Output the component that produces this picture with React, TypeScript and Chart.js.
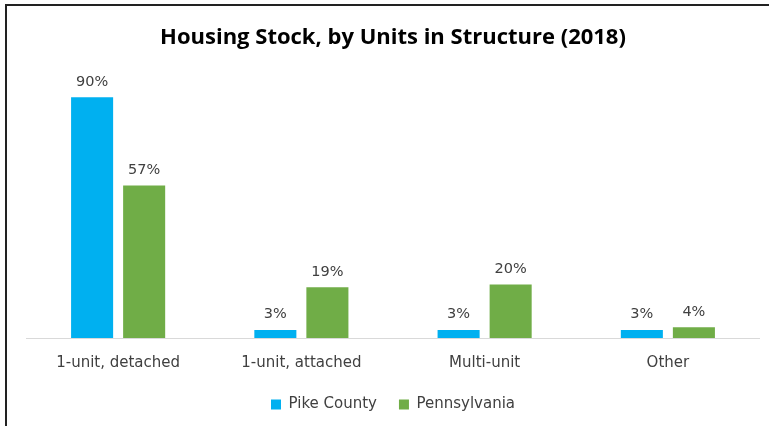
import React, { useEffect, useRef } from "react";
import { Chart, registerables } from "chart.js";

Chart.register(...registerables);

const categories = ["1-unit, detached", "1-unit, attached", "Multi-unit", "Other"];
const pikeCounty = [90, 3, 3, 3];
const pennsylvania = [57, 19, 20, 4];
const seriesNames = ["Pike County", "Pennsylvania"];
const titleText = "Housing Stock, by Units in Structure (2018)";

const FONT = "'DejaVu Sans', sans-serif";
const TITLE_FONT = "'Open Sans', 'Noto Sans', sans-serif";

const dataLabelPlugin = {
  id: "dataLabels",
  afterDatasetsDraw(chart: any) {
    const ctx = chart.ctx;
    ctx.save();
    ctx.font = `14.5px ${FONT}`;
    ctx.fillStyle = "#404040";
    ctx.textAlign = "center";
    ctx.textBaseline = "bottom";
    chart.data.datasets.forEach((ds: any, i: number) => {
      const meta = chart.getDatasetMeta(i);
      meta.data.forEach((bar: any, j: number) => {
        ctx.fillText(`${ds.data[j]}%`, bar.x, bar.y - 8);
      });
    });
    ctx.restore();
  },
};

const legendHeightPlugin = {
  id: "legendHeight",
  beforeLayout(chart: any) {
    const legend = chart.legend;
    if (legend && !legend.__patched) {
      const orig = legend.fit;
      legend.fit = function (this: any) {
        orig.call(this);
        this.height = 45;
      };
      legend.__patched = true;
    }
  },
};

export default function App() {
  const ref = useRef<HTMLCanvasElement>(null);
  useEffect(() => {
    if (!ref.current) return;
    const chart = new Chart(ref.current, {
      type: "bar",
      data: {
        labels: categories,
        datasets: [
          {
            label: seriesNames[0],
            data: pikeCounty,
            backgroundColor: "#00B0F0",
            categoryPercentage: 0.568,
            barPercentage: 0.808,
          },
          {
            label: seriesNames[1],
            data: pennsylvania,
            backgroundColor: "#70AD47",
            categoryPercentage: 0.568,
            barPercentage: 0.808,
          },
        ],
      },
      options: {
        animation: false,
        responsive: false,
        maintainAspectRatio: false,
        layout: { padding: { left: 26.5, right: 9.5, top: 0, bottom: 6 } },
        scales: {
          x: {
            grid: { display: false, drawTicks: false },
            border: { display: true, color: "#d9d9d9", width: 1 },
            ticks: {
              padding: 16,
              color: "#404040",
              font: { family: FONT, size: 15 },
            },
            afterFit(scale: any) {
              scale.height = 37;
            },
          },
          y: {
            display: false,
            min: 0,
            max: 100,
          },
        },
        plugins: {
          title: {
            display: true,
            text: titleText,
            color: "#000000",
            font: { family: TITLE_FONT, size: 22, weight: "bold" },
            padding: { top: 25, bottom: 19 },
          },
          legend: {
            position: "bottom",
            labels: {
              boxWidth: 10,
              boxHeight: 10,
              padding: 22,
              color: "#404040",
              font: { family: FONT, size: 15 },
            },
          },
          tooltip: { enabled: false },
        },
      },
      plugins: [dataLabelPlugin, legendHeightPlugin],
    });
    return () => chart.destroy();
  }, []);
  return (
    <div style={{ position: "fixed", left: 0, top: 0, width: 769, height: 426, background: "#fff" }}>
      <div
        style={{
          position: "absolute",
          left: 5,
          top: 4,
          right: 0,
          bottom: 0,
          borderTop: "2px solid #222",
          borderLeft: "2px solid #222",
        }}
      />
      <canvas ref={ref} width={769} height={426} style={{ position: "absolute", left: 0, top: 0 }} />
    </div>
  );
}
